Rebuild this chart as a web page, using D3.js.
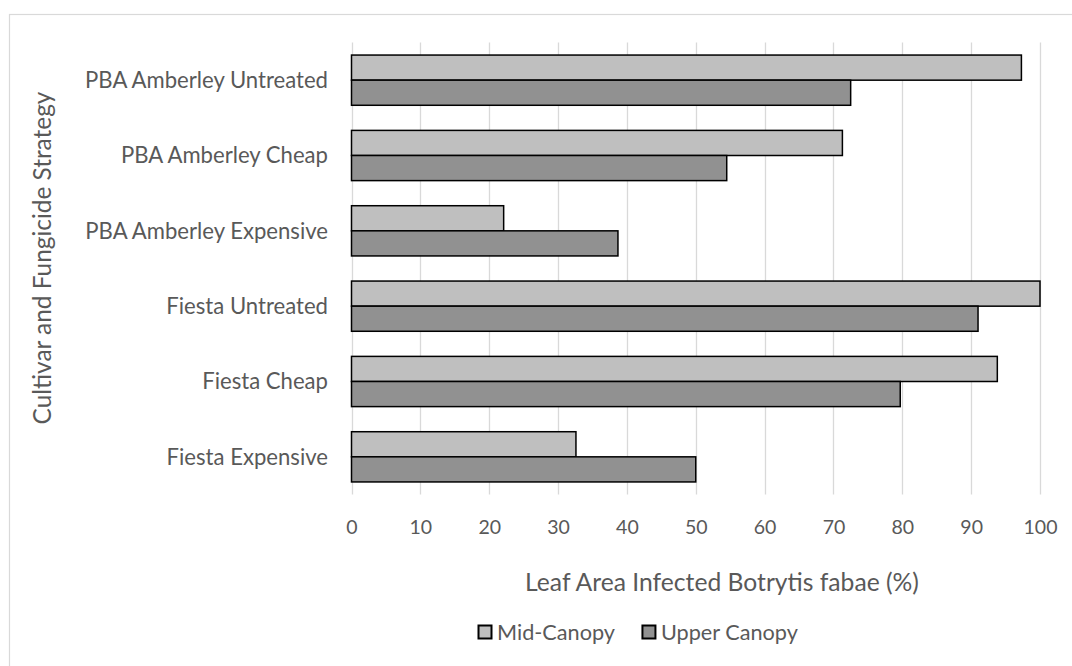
<!DOCTYPE html>
<html>
<head>
<meta charset="utf-8">
<script src="https://cdn.jsdelivr.net/npm/d3@7"></script>
<style>
  html, body { margin: 0; padding: 0; background: #fff; }
  svg { display: block; }
  text { font-family: Lato, "Open Sans", sans-serif; fill: #595959; }
</style>
</head>
<body>
<svg id="chart" width="1072" height="666"></svg>
<script>
// ---- data ----
const categories = [
  "PBA Amberley Untreated",
  "PBA Amberley Cheap",
  "PBA Amberley Expensive",
  "Fiesta Untreated",
  "Fiesta Cheap",
  "Fiesta Expensive"
];
const seriesNames = ["Mid-Canopy", "Upper Canopy"];
const midCanopy   = [97.3, 71.3, 22.1, 100.0, 93.8, 32.6];
const upperCanopy = [72.5, 54.5, 38.7, 91.0, 79.7, 50.0];
const xTicks = [0, 10, 20, 30, 40, 50, 60, 70, 80, 90, 100];
const xTitle = "Leaf Area Infected Botrytis fabae (%)";
const yTitle = "Cultivar and Fungicide Strategy";

const seriesValues = [midCanopy, upperCanopy];
const seriesFill = ["#BFBFBF", "#919191"];

const svg = d3.select("#chart");

// chart border
svg.append("rect")
  .attr("x", 9.5).attr("y", 14.5)
  .attr("width", 1072).attr("height", 700)
  .attr("fill", "none").attr("stroke", "#D9D9D9").attr("stroke-width", 1.2);

// font size fitting so text widths match the reference
function fitSize(str, targetWidth) {
  const p = svg.append("text").attr("font-size", 24).text(str);
  const w = p.node().getComputedTextLength();
  p.remove();
  return 24 * targetWidth / w;
}
const fsCat = fitSize(categories[0], 243);
const fsTick = Math.min(fsCat, fitSize("100", 34));
const fsXTitle = fitSize(xTitle, 394);
const fsYTitle = fitSize(yTitle, 333);
const fsLegend = fitSize(seriesNames[0], 118);

const plot = { left: 351.5, right: 1040, top: 42.5, bottom: 494.5 };

const x = d3.scaleLinear().domain([0, 100]).range([plot.left, plot.right]);
const y = d3.scaleBand().domain(categories).range([plot.top, plot.bottom]).padding(0);
const ySub = d3.scaleBand().domain(seriesNames).range([0, y.bandwidth()])
  .paddingInner(0).paddingOuter(0.5);

// gridlines
svg.append("g").selectAll("line").data(xTicks).join("line")
  .attr("x1", d => Math.round(x(d)) + 0.5).attr("x2", d => Math.round(x(d)) + 0.5)
  .attr("y1", plot.top).attr("y2", plot.bottom)
  .attr("stroke", "#D9D9D9").attr("stroke-width", 1.3);

// bars
const rows = categories.map((c, i) => ({ c, vals: seriesNames.map((s, j) => ({ s, j, v: seriesValues[j][i] })) }));
const g = svg.append("g").selectAll("g").data(rows).join("g")
  .attr("transform", d => `translate(0,${y(d.c)})`);
g.selectAll("rect").data(d => d.vals).join("rect")
  .attr("x", x(0))
  .attr("y", d => ySub(d.s))
  .attr("width", d => x(d.v) - x(0))
  .attr("height", ySub.bandwidth())
  .attr("fill", d => seriesFill[d.j])
  .attr("stroke", "#000").attr("stroke-width", 1.5);

// x axis tick labels
const xAxis = d3.axisBottom(x).tickValues(xTicks).tickSize(0).tickPadding(0).tickFormat(d3.format("d"));
const xg = svg.append("g").attr("transform", `translate(0,${plot.bottom})`).call(xAxis);
xg.select(".domain").remove();
xg.selectAll("text").attr("font-size", fsTick).attr("fill", "#595959")
  .attr("dy", "0.35em").attr("y", 33).style("font-family", "Lato, 'Open Sans', sans-serif");

// y axis labels
const yAxis = d3.axisLeft(y).tickSize(0).tickPadding(0);
const yg = svg.append("g").attr("transform", `translate(${plot.left - 23.5},0)`).call(yAxis);
yg.select(".domain").remove();
yg.selectAll("text").attr("font-size", fsCat).attr("fill", "#595959")
  .attr("dy", "0.35em").style("font-family", "Lato, 'Open Sans', sans-serif");

// axis titles
svg.append("text").attr("x", 722).attr("y", 582).attr("dy", "0.35em")
  .attr("text-anchor", "middle").attr("font-size", fsXTitle).text(xTitle);
svg.append("text")
  .attr("transform", "translate(42,258) rotate(-90)").attr("dy", "0.35em")
  .attr("text-anchor", "middle").attr("font-size", fsYTitle).text(yTitle);

// legend
const legend = svg.append("g").attr("transform", "translate(478,625)");
let lx = 0;
seriesNames.forEach((s, j) => {
  const item = legend.append("g").attr("transform", `translate(${lx},0)`);
  item.append("rect").attr("x", 0.5).attr("y", 0.5).attr("width", 13).attr("height", 13)
    .attr("fill", seriesFill[j]).attr("stroke", "#000").attr("stroke-width", 2);
  const t = item.append("text").attr("x", 19).attr("y", 7).attr("dy", "0.35em")
    .attr("font-size", fsLegend).text(s);
  lx += 19 + t.node().getComputedTextLength() + 27;
});
</script>
</body>
</html>
